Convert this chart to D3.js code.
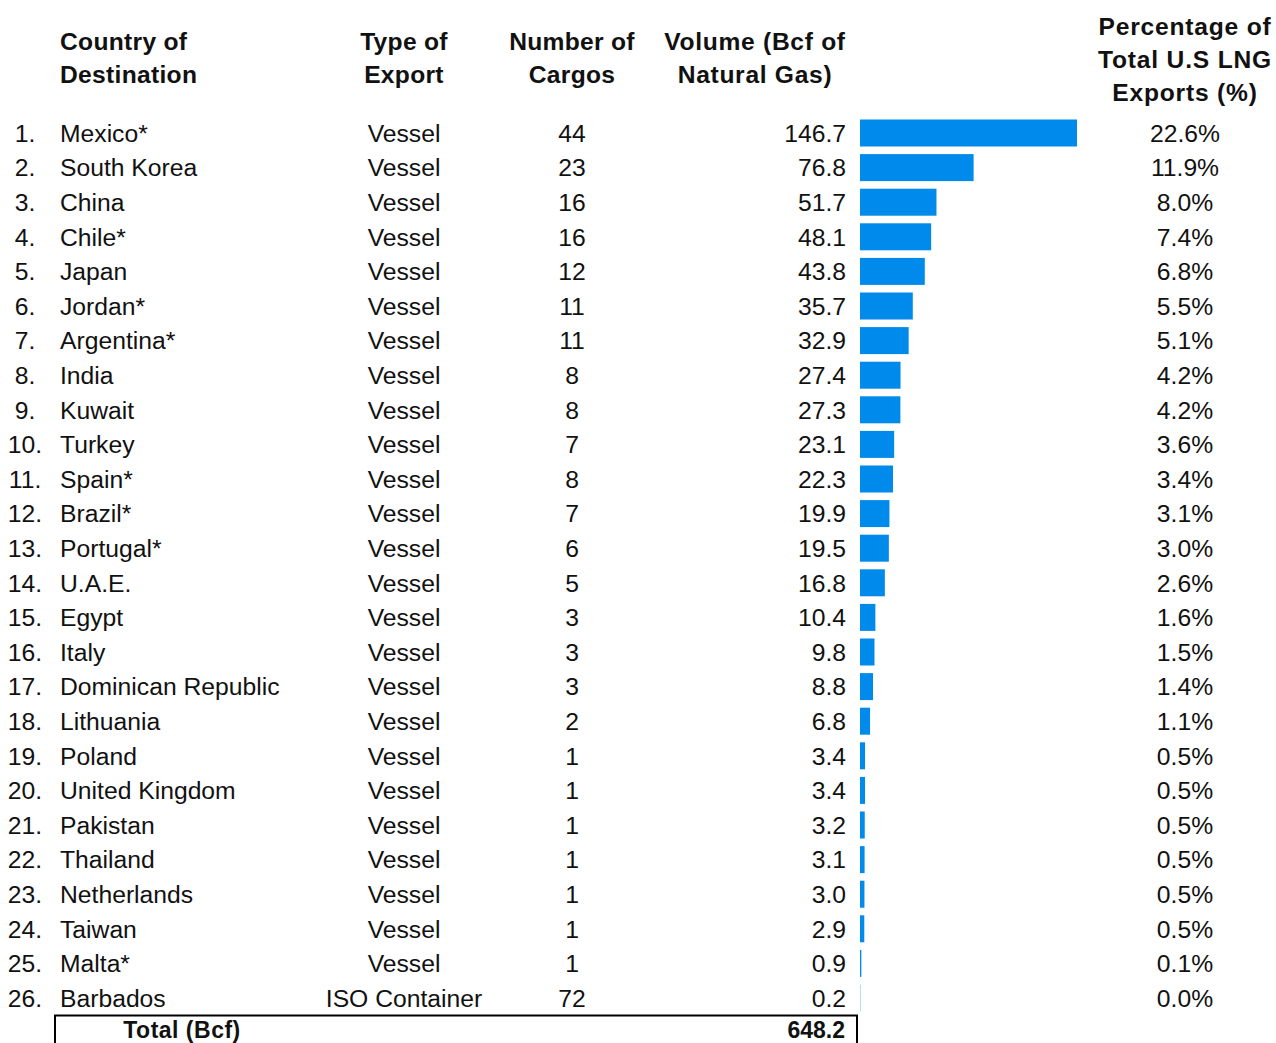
<!DOCTYPE html>
<html>
<head>
<meta charset="utf-8">
<script src="https://cdn.jsdelivr.net/npm/d3@7"></script>
<style>
  html, body { margin: 0; padding: 0; background: #fff; overflow: hidden; }
  svg { display: block; font-family: "Liberation Sans", Arial, sans-serif; }
</style>
</head>
<body>
<svg id="chart" width="1276" height="1043"></svg>
<script>
const countries = ["Mexico*", "South Korea", "China", "Chile*", "Japan", "Jordan*", "Argentina*", "India", "Kuwait", "Turkey", "Spain*", "Brazil*", "Portugal*", "U.A.E.", "Egypt", "Italy", "Dominican Republic", "Lithuania", "Poland", "United Kingdom", "Pakistan", "Thailand", "Netherlands", "Taiwan", "Malta*", "Barbados"];
const exportTypes = ["Vessel", "Vessel", "Vessel", "Vessel", "Vessel", "Vessel", "Vessel", "Vessel", "Vessel", "Vessel", "Vessel", "Vessel", "Vessel", "Vessel", "Vessel", "Vessel", "Vessel", "Vessel", "Vessel", "Vessel", "Vessel", "Vessel", "Vessel", "Vessel", "Vessel", "ISO Container"];
const cargos = [44, 23, 16, 16, 12, 11, 11, 8, 8, 7, 8, 7, 6, 5, 3, 3, 3, 2, 1, 1, 1, 1, 1, 1, 1, 72];
const volumes = [146.7, 76.8, 51.7, 48.1, 43.8, 35.7, 32.9, 27.4, 27.3, 23.1, 22.3, 19.9, 19.5, 16.8, 10.4, 9.8, 8.8, 6.8, 3.4, 3.4, 3.2, 3.1, 3.0, 2.9, 0.9, 0.2];
const percentages = [22.6, 11.9, 8.0, 7.4, 6.8, 5.5, 5.1, 4.2, 4.2, 3.6, 3.4, 3.1, 3.0, 2.6, 1.6, 1.5, 1.4, 1.1, 0.5, 0.5, 0.5, 0.5, 0.5, 0.5, 0.1, 0.0];
const totalLabel = "Total (Bcf)";
const totalValue = 648.2;
const headerCountry = ["Country of", "Destination"];
const headerType = ["Type of", "Export"];
const headerCargos = ["Number of", "Cargos"];
const headerVolume = ["Volume (Bcf of", "Natural Gas)"];
const headerPct = ["Percentage of", "Total U.S LNG", "Exports (%)"];

const svg = d3.select("#chart");
const fontSize = 24.7;
const headSize = 24.6;
const textColor = "#111";
const barColor = "#008AEC";

const idx = d3.range(countries.length);
const y = d3.scaleBand().domain(idx).range([115.7, 115.7 + 34.6 * countries.length]).padding(0);
const x = d3.scaleLinear().domain([0, d3.max(volumes)]).range([860, 1077]);
const fmt1 = d3.format(".1f");

// Headers
function header(lines, cx, baseline0, anchor, ls) {
  const t = svg.append("text")
    .attr("font-weight", "bold")
    .attr("font-size", headSize)
    .attr("letter-spacing", ls || 0)
    .attr("fill", textColor)
    .attr("text-anchor", anchor || "middle");
  lines.forEach((l, i) => {
    t.append("tspan").attr("x", cx).attr("y", baseline0 + i * 33).text(l);
  });
}
header(headerCountry, 60, 50, "start", 0.3);
header(headerType, 404, 50, "middle", 0.3);
header(headerCargos, 572, 50, "middle", 0.3);
header(headerVolume, 755, 50, "middle", 0.7);
header(headerPct, 1185, 35, "middle", 0.8);

const rows = svg.append("g").selectAll("g").data(idx).join("g")
  .attr("transform", i => `translate(0,${y(i) + y.bandwidth() / 2})`);

const base = 8.8;
rows.append("text").attr("x", 25).attr("y", base).attr("text-anchor", "middle")
  .attr("font-size", fontSize).attr("fill", textColor).text(i => (i + 1) + ".");
rows.append("text").attr("x", 60).attr("y", base)
  .attr("font-size", fontSize).attr("fill", textColor).text(i => countries[i]);
rows.append("text").attr("x", 404).attr("y", base).attr("text-anchor", "middle")
  .attr("font-size", fontSize).attr("fill", textColor).text(i => exportTypes[i]);
rows.append("text").attr("x", 572).attr("y", base).attr("text-anchor", "middle")
  .attr("font-size", fontSize).attr("fill", textColor).text(i => cargos[i]);
rows.append("text").attr("x", 846).attr("y", base).attr("text-anchor", "end")
  .attr("font-size", fontSize).attr("fill", textColor).text(i => fmt1(volumes[i]));
rows.append("rect")
  .attr("x", x(0))
  .attr("y", -13.5)
  .attr("height", 27)
  .attr("width", i => Math.max(0, x(volumes[i]) - x(0)))
  .attr("fill", barColor);
rows.append("text").attr("x", 1185).attr("y", base).attr("text-anchor", "middle")
  .attr("font-size", fontSize).attr("fill", textColor).text(i => fmt1(percentages[i]) + "%");

// Total row
svg.append("rect").attr("x", 55).attr("y", 1015.5).attr("width", 802).attr("height", 60)
  .attr("fill", "none").attr("stroke", "#000").attr("stroke-width", 2);
svg.append("text").attr("x", 182).attr("y", 1038).attr("text-anchor", "middle")
  .attr("font-weight", "bold").attr("font-size", 23).attr("letter-spacing", 0.5).attr("fill", textColor).text(totalLabel);
svg.append("text").attr("x", 845).attr("y", 1038).attr("text-anchor", "end")
  .attr("font-weight", "bold").attr("font-size", 23).attr("fill", textColor).text(fmt1(totalValue));
</script>
</body>
</html>
